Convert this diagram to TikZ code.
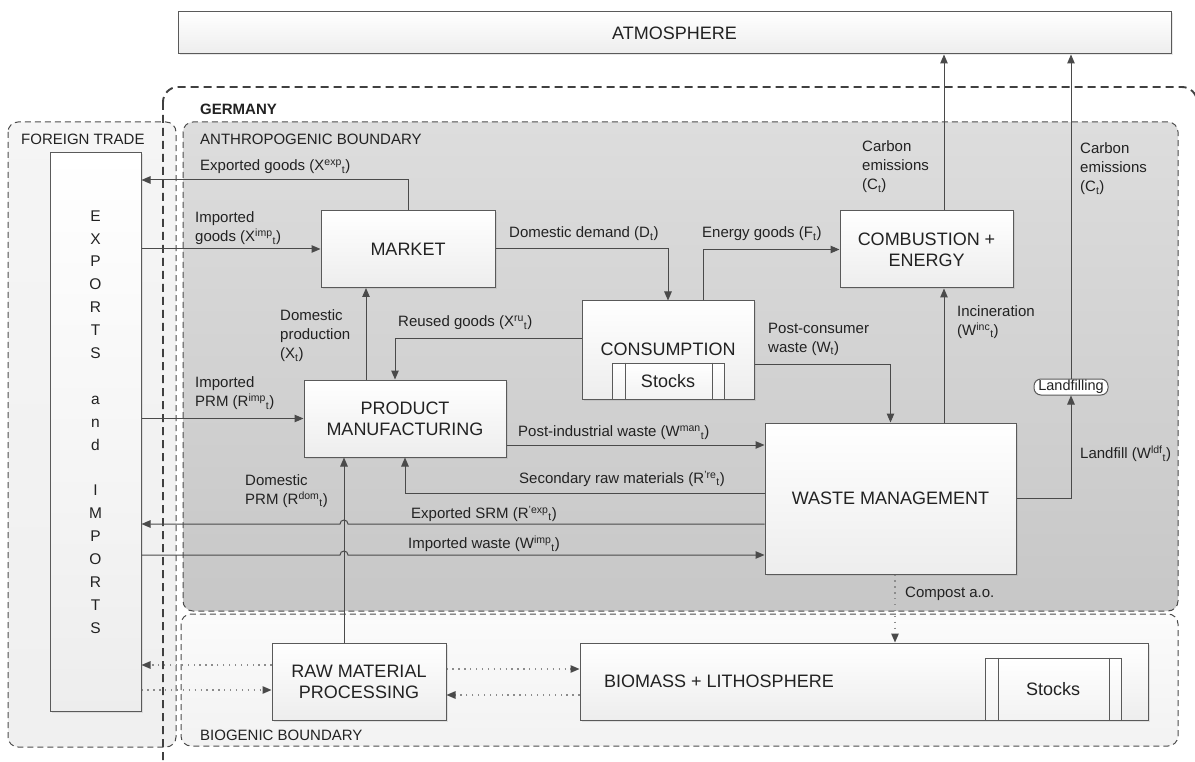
\documentclass[tikz,border=0pt]{standalone}
\usepackage{fontspec}
\setmainfont{Liberation Sans}
\usetikzlibrary{arrows.meta,shadows,calc}

\definecolor{linegray}{HTML}{4A4A4A}
\definecolor{boxgray}{HTML}{5A5A5A}
\definecolor{txt}{HTML}{222222}
\definecolor{anthtop}{HTML}{DDDDDD}
\definecolor{anthbot}{HTML}{C7C7C7}

\begin{document}
\begin{tikzpicture}[x=1pt,y=-1pt,
  box/.style={draw=boxgray, line width=1pt, top color=white, bottom color=black!7,
    inner sep=0pt, align=center, text=txt, font=\fontsize{18}{21}\selectfont,
    drop shadow={shadow xshift=1.5pt,shadow yshift=-1.5pt,opacity=0.18}},
  stockbox/.style={draw=boxgray, line width=1pt, top color=white, bottom color=black!5,
    inner sep=0pt, text=txt, font=\fontsize{18}{21}\selectfont},
  pill/.style={draw=boxgray, line width=1pt, fill=white, rounded corners=7pt,
    inner sep=0pt, minimum width=74pt, minimum height=16pt, text=txt,
    font=\fontsize{14.5}{16}\selectfont},
  lbl/.style={font=\fontsize{15}{19}\selectfont, text=txt, align=left, inner sep=0pt, anchor=west},
  blbl/.style={font=\fontsize{15}{19}\selectfont, text=txt, inner sep=0pt, anchor=west},
  flow/.style={draw=linegray, line width=1pt, -{Triangle[length=9pt,width=7.5pt]}},
  dotflow/.style={draw=black!45, line width=1.2pt, dash pattern=on 1.3pt off 4.6pt,
    -{Triangle[length=9pt,width=7.5pt,color=linegray,fill=linegray]}},
  zone/.style={draw=black!70, line width=1pt, dash pattern=on 6pt off 4pt, rounded corners=10pt},
]
\useasboundingbox (0,0) rectangle (1195,762);

% ---------- system boundaries ----------
\begin{scope}
\clip (0,0) rectangle (1195,762);
\draw[zone, top color=black!4, bottom color=black!6] (8,122) rectangle (176,747);
\draw[zone, top color=anthtop, bottom color=anthbot] (183,122) rectangle (1178,611);
\draw[zone, top color=black!1.5, bottom color=black!5] (181,614) rectangle (1178,746);
\draw[draw=black!75, line width=1.9pt, dash pattern=on 8pt off 5pt, rounded corners=15pt]
  (163,87) rectangle (1197,778);
\end{scope}

\node[blbl, font=\fontsize{15}{19}\selectfont\bfseries] (germany) at (200,109) {GERMANY};
\node[blbl] (foreign) at (21,139) {FOREIGN TRADE};
\node[blbl] (anthro) at (200,139) {ANTHROPOGENIC BOUNDARY};
\node[blbl] (biogen) at (200,735) {BIOGENIC BOUNDARY};

% ---------- process boxes ----------
\node[box, minimum width=993pt, minimum height=42pt] (atmo) at (674.5,33) {ATMOSPHERE};
\node[box, minimum width=91pt, minimum height=558pt] (expo) at (95.5,432) {};
\node[inner sep=0pt, align=center, text=txt, font=\fontsize{15.5}{22.9}\selectfont]
  (expotext) at ([yshift=10pt]expo.center)
  {E\\X\\P\\O\\R\\T\\S\\[22.9pt]a\\n\\d\\[22.9pt]I\\M\\P\\O\\R\\T\\S};
\node[box, minimum width=174pt, minimum height=77pt] (market) at (408,249) {MARKET};
\node[box, minimum width=172pt, minimum height=98pt] (consumption) at (668,350) {};
\node[inner sep=0pt, text=txt, font=\fontsize{18}{21}\selectfont] (constext) at (668,349) {CONSUMPTION};
\node[stockbox, minimum width=112pt, minimum height=36pt] (stocksA) at (668,381) {Stocks};
\draw[boxgray, line width=1pt] ($(stocksA.north west)+(14,0)$) -- ($(stocksA.south west)+(14,0)$);
\draw[boxgray, line width=1pt] ($(stocksA.north east)+(-12,0)$) -- ($(stocksA.south east)+(-12,0)$);
\node[box, minimum width=173pt, minimum height=77pt] (combustion) at (926.5,249.5) {COMBUSTION +\\ENERGY};
\node[box, minimum width=202pt, minimum height=77pt] (product) at (405,418.5) {PRODUCT\\MANUFACTURING};
\node[box, minimum width=251pt, minimum height=151pt] (waste) at (890.5,498.5) {WASTE MANAGEMENT};
\node[pill] (landfilling) at (1071,387) {Landfilling};
\node[box, minimum width=174pt, minimum height=77pt] (raw) at (359,681.5) {RAW MATERIAL\\PROCESSING};
\node[box, minimum width=568pt, minimum height=77pt] (biomass) at (864,681.5) {};
\node[inner sep=0pt, anchor=west, text=txt, font=\fontsize{18}{21}\selectfont] (biotext) at (604,681) {BIOMASS + LITHOSPHERE};
\node[stockbox, minimum width=136pt, minimum height=62pt] (stocksB) at (1053,689) {Stocks};
\draw[boxgray, line width=1pt] ($(stocksB.north west)+(14,0)$) -- ($(stocksB.south west)+(14,0)$);
\draw[boxgray, line width=1pt] ($(stocksB.north east)+(-12,0)$) -- ($(stocksB.south east)+(-12,0)$);

% ---------- material flows ----------
\coordinate (prmx) at (344,0);
\draw[flow] (market.north) |- (expo.east |- 0,180);
\draw[flow] (expo.east |- market.west) -- (market.west);
\draw[flow] (market.east) -| (consumption.north);
\draw[flow] (consumption.north -| 703,0) |- (combustion.west);
\draw[flow] (consumption.west |- 0,338) -| (product.north -| 395,0);
\draw[flow] (product.north -| 366,0) -- (market.south -| 366,0);
\draw[flow] (expo.east |- product.west) -- (product.west);
\draw[flow] (consumption.east |- 0,364) -| (waste.north);
\draw[flow] (waste.north -| 944,0) -- (combustion.south -| 944,0);
\draw[flow] (combustion.north -| 944,0) -- (atmo.south -| 944,0);
\draw[flow] (waste.east) -| (landfilling.south);
\draw[flow] (landfilling.north) -- (atmo.south -| landfilling.north);
\draw[flow] (product.east |- 0,445) -- (waste.west |- 0,445);
\draw[flow] (waste.west |- 0,493) -| (product.south);
\draw[flow] (waste.west |- 0,524) -- ($(prmx |- 0,524)+(4,0)$)
  arc[start angle=0,end angle=180,radius=4pt] -- (expo.east |- 0,524);
\draw[flow] (expo.east |- 0,555) -- ($(prmx |- 0,555)+(-4,0)$)
  arc[start angle=180,end angle=0,radius=4pt] -- (waste.west |- 0,555);
\draw[flow] (raw.north -| prmx) -- (product.south -| prmx);
\draw[dotflow] (waste.south -| 895,0) -- (biomass.north -| 895,0);
\draw[dotflow] (raw.west |- 0,665) -- (expo.east |- 0,665);
\draw[dotflow] (expo.east |- 0,690) -- (raw.west |- 0,690);
\draw[dotflow] (raw.east |- 0,669) -- (biomass.west |- 0,669);
\draw[dotflow] (biomass.west |- 0,695) -- (raw.east |- 0,695);

% ---------- flow labels ----------
\node[lbl] (l1) at (200,167) {Exported goods (X\textsuperscript{exp}\textsubscript{t})};
\node[lbl] (l2) at (195,228.5) {Imported\\goods (X\textsuperscript{imp}\textsubscript{t})};
\node[lbl] (l3) at (509,234) {Domestic demand (D\textsubscript{t})};
\node[lbl] (l4) at (702,234) {Energy goods (F\textsubscript{t})};
\node[lbl] (l5) at (398,323) {Reused goods (X\textsuperscript{ru}\textsubscript{t})};
\node[lbl] (l6) at (280,336) {Domestic\\production\\(X\textsubscript{t})};
\node[lbl] (l7) at (195,393.5) {Imported\\PRM (R\textsuperscript{imp}\textsubscript{t})};
\node[lbl] (l8) at (245,491) {Domestic\\PRM (R\textsuperscript{dom}\textsubscript{t})};
\node[lbl] (l9) at (768,339.5) {Post-consumer\\waste (W\textsubscript{t})};
\node[lbl] (l10) at (957,322) {Incineration\\(W\textsuperscript{inc}\textsubscript{t})};
\node[lbl] (l11) at (862,167) {Carbon\\emissions\\(C\textsubscript{t})};
\node[lbl] (l12) at (1080,169) {Carbon\\emissions\\(C\textsubscript{t})};
\node[lbl] (l13) at (1080,454) {Landfill (W\textsuperscript{ldf}\textsubscript{t})};
\node[lbl] (l14) at (518,433) {Post-industrial waste (W\textsuperscript{man}\textsubscript{t})};
\node[lbl] (l15) at (519,479) {Secondary raw materials (R\textsuperscript{'re}\textsubscript{t})};
\node[lbl] (l16) at (411,514) {Exported SRM (R\textsuperscript{'exp}\textsubscript{t})};
\node[lbl] (l17) at (408,544) {Imported waste (W\textsuperscript{imp}\textsubscript{t})};
\node[lbl] (l18) at (905,594) {Compost a.o.};
\end{tikzpicture}
\end{document}
